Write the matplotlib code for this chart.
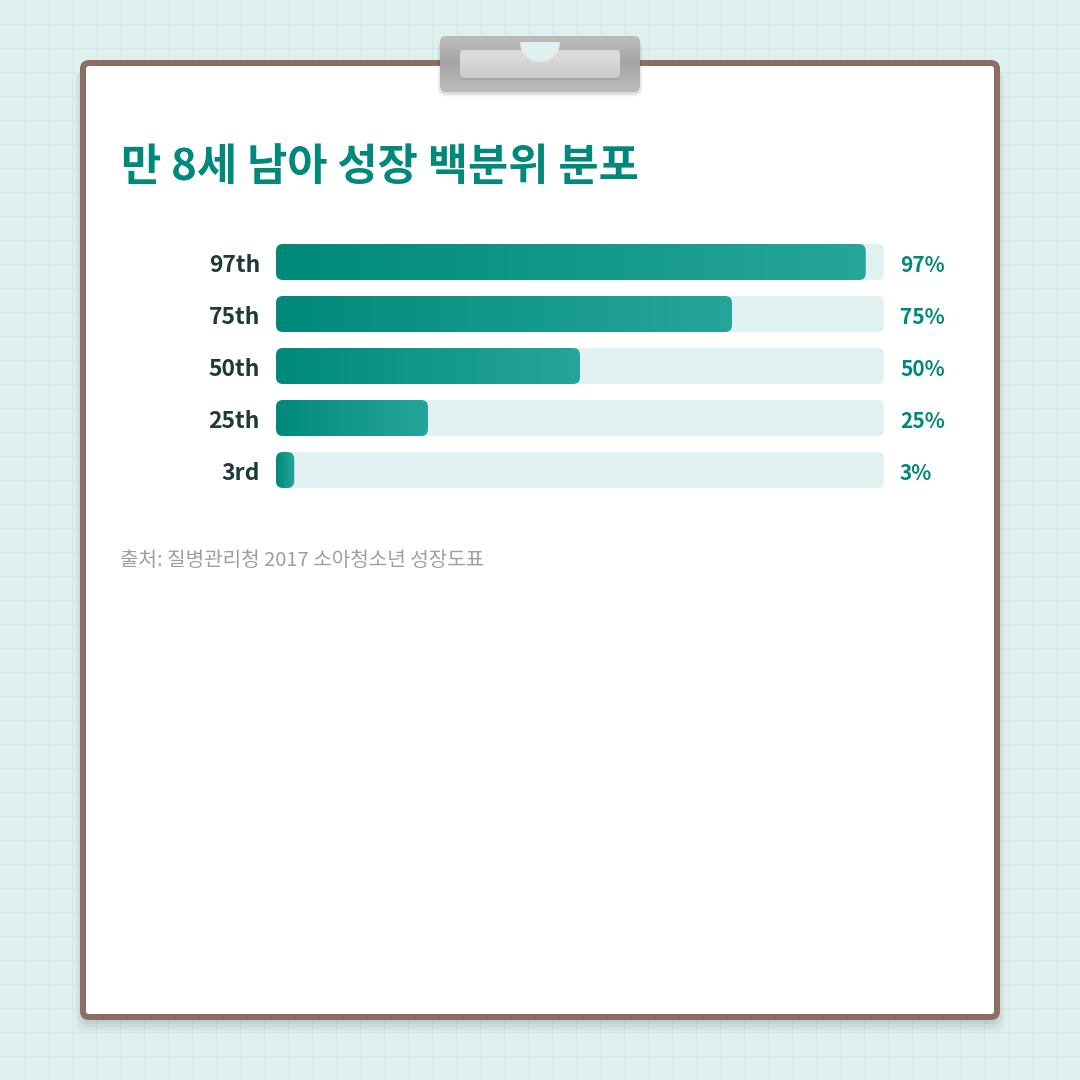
import numpy as np
import matplotlib.pyplot as plt
from matplotlib.patches import FancyBboxPatch, Wedge
from matplotlib.colors import LinearSegmentedColormap

plt.rcParams['font.family'] = ['Noto Sans CJK KR', 'DejaVu Sans']

# data
labels = ['97th', '75th', '50th', '25th', '3rd']
values = [97, 75, 50, 25, 3]
title = '만 8세 남아 성장 백분위 분포'
source = '출처: 질병관리청 2017 소아청소년 성장도표'

BG = '#dff0ef'
GRID = '#d3ebe8'
TEAL = '#00897b'
TEAL_LIGHT = '#26a69a'
TRACK = '#e0f2f1'
BROWN = '#8d6e63'
LABEL = '#1d3a37'

fig = plt.figure(figsize=(10.8, 10.8), dpi=100)
fig.patch.set_facecolor(BG)
ax = fig.add_axes([0, 0, 1, 1])
ax.set_xlim(0, 1080)
ax.set_ylim(1080, 0)
ax.axis('off')

# background grid
for g in range(24, 1080, 24):
    ax.axvline(g, color=GRID, lw=0.8, zorder=0)
    ax.axhline(g, color=GRID, lw=0.8, zorder=0)

# card shadow
for i, a in enumerate([0.04, 0.04, 0.035, 0.03, 0.025]):
    s = FancyBboxPatch((83 - i * 2, 63 + 4 + i), 914 + i * 4, 954 + i * 2,
                       boxstyle='round,pad=0,rounding_size=10',
                       fc='#000000', ec='none', alpha=a, zorder=1)
    ax.add_patch(s)

# card
card = FancyBboxPatch((83, 63), 914, 954, boxstyle='round,pad=0,rounding_size=6',
                      fc='white', ec=BROWN, lw=4.32, zorder=2)
ax.add_patch(card)

# clipboard clip
for i, a in enumerate([0.05, 0.04, 0.03, 0.02]):
    ax.add_patch(FancyBboxPatch((440 - i, 38 + i), 200 + 2 * i, 56,
                                boxstyle='round,pad=0,rounding_size=8',
                                fc='black', ec='none', alpha=a, zorder=3))
clip = FancyBboxPatch((440, 36), 200, 56, boxstyle='round,pad=0,rounding_size=6',
                      fc='none', ec='none', zorder=4)
ax.add_patch(clip)
cgrad = np.array([0.73, 0.70, 0.66, 0.64, 0.67, 0.71, 0.73])[:, None]
im = ax.imshow(cgrad, cmap='gray', vmin=0, vmax=1, extent=[440, 640, 92, 36],
               aspect='auto', zorder=4, interpolation='bicubic')
im.set_clip_path(clip)
inner_sh = FancyBboxPatch((460, 52), 160, 28, boxstyle='round,pad=0,rounding_size=4',
                          fc='black', ec='none', alpha=0.08, zorder=5)
ax.add_patch(inner_sh)
inner = FancyBboxPatch((460, 50), 160, 28, boxstyle='round,pad=0,rounding_size=4',
                       fc='none', ec='none', zorder=5)
ax.add_patch(inner)
igrad = np.array([0.86, 0.84, 0.82, 0.79])[:, None]
im2 = ax.imshow(igrad, cmap='gray', vmin=0, vmax=1, extent=[460, 620, 78, 50],
                aspect='auto', zorder=5, interpolation='bicubic')
im2.set_clip_path(inner)
ax.add_patch(Wedge((540, 42), 20, 0, 180, fc=BG, ec='none', zorder=6))

# title
ax.text(121, 167, title, fontsize=31.5, fontweight='bold', color=TEAL,
        ha='left', va='center', zorder=7)

# bars
cmap = LinearSegmentedColormap.from_list('teal', [TEAL, TEAL_LIGHT])
x0, width, h, pitch, top = 276, 608, 36, 52, 244
for i, (lab, v) in enumerate(zip(labels, values)):
    y = top + i * pitch
    ax.add_patch(FancyBboxPatch((x0, y), width, h, boxstyle='round,pad=0,rounding_size=7',
                                fc=TRACK, ec='none', zorder=7))
    w = width * v / 100
    fill = FancyBboxPatch((x0, y), w, h, boxstyle='round,pad=0,rounding_size=7',
                          fc='none', ec='none', zorder=8)
    ax.add_patch(fill)
    gi = ax.imshow(np.linspace(0, 1, 256)[None, :], cmap=cmap, extent=[x0, x0 + w, y + h, y],
                   aspect='auto', zorder=8, interpolation='bilinear')
    gi.set_clip_path(fill)
    ax.text(260, y + h / 2 + 4, lab, fontsize=16.5, fontweight='bold', color=LABEL,
            ha='right', va='center', zorder=9)
    ax.text(900, y + h / 2 + 4, f'{v}%', fontsize=15, fontweight='bold', color=TEAL,
            ha='left', va='center', zorder=9)

ax.text(120, 560, source, fontsize=14.5, color='#9e9e9e', ha='left', va='center', zorder=9)

ax.set_xlim(0, 1080)
ax.set_ylim(1080, 0)
fig.savefig('out.png', dpi=100, facecolor=BG)
